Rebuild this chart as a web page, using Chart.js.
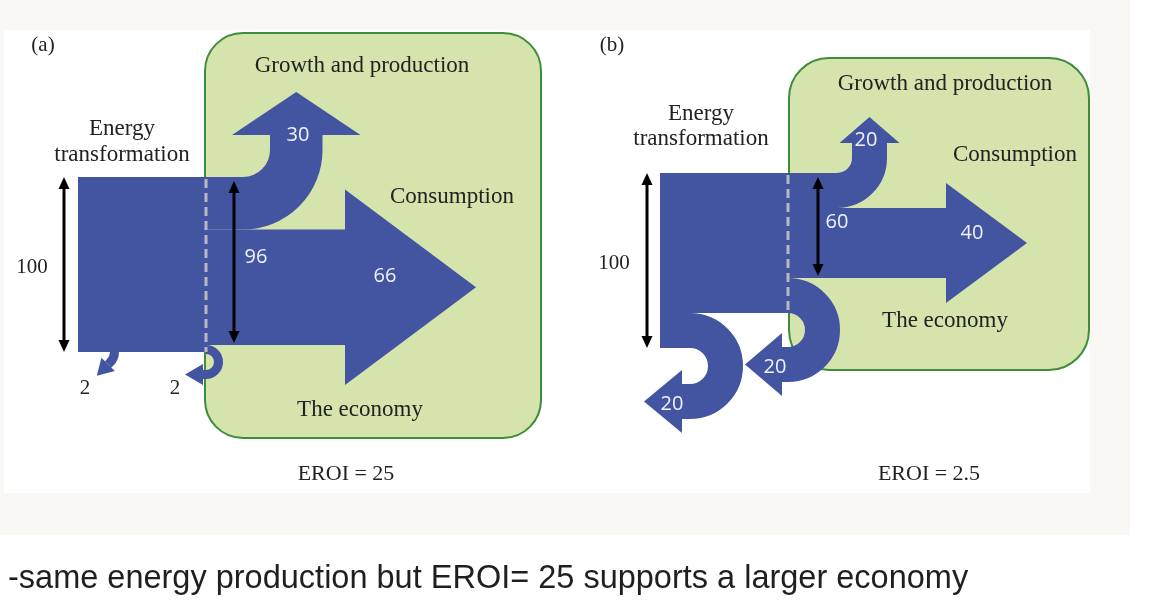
<!DOCTYPE html>
<html lang="en">
<head>
  <meta charset="UTF-8" />
  <title>EROI and the size of the economy</title>
  <script src="https://cdn.jsdelivr.net/npm/chart.js"></script>
  <style>
    * { box-sizing: border-box; margin: 0; padding: 0; }
    body { width: 1156px; height: 610px; overflow: hidden; background: #fff; position: relative; font-family: "Liberation Sans", Arial, sans-serif; }
    .frame { position: absolute; left: 0; top: 0; width: 1130px; height: 535px; background: #f9f8f4; }
    .paper { position: absolute; left: 4px; top: 30px; width: 1086px; height: 463px; background: #fff; }
    #chart { position: absolute; left: 0; top: 0; }
    .caption { position: absolute; left: 8px; top: 561px; font-size: 32.5px; line-height: 32.5px; color: #1f1f1f; white-space: nowrap; }
  </style>
</head>
<body>

<div class="frame"></div>
<div class="paper"></div>
<canvas id="chart" width="1156" height="610"></canvas>
<div class="caption">-same energy production but EROI= 25 supports a larger economy</div>

<script>
  // energy flows, 100 = energy produced
  const panels = ['(a)', '(b)'];
  const energyProduced = [100, 100];
  const toEconomy = [96, 60];
  const growthFlow = [30, 20];
  const consumptionFlow = [66, 40];
  const transformLoss = [2, 20];
  const deliveryLoss = [2, 20];
  const eroiText = ['EROI = 25', 'EROI = 2.5'];
  const boxLabels = ['Growth and production', 'Consumption', 'The economy'];
  const sourceLabel = ['Energy', 'transformation'];

  const BLUE = '#4354a1';
  const K = 1.75;      // px per energy unit
  const MIN_W = 9;     // tiny flows still need to be seen

  // where each panel sits
  const layout = [
    {
      tag: [43, 45], source: [122, 129, 155], box: [205, 33, 541, 438, 38],
      boxText: [[362, 66], [452, 197], [360, 410]], eroi: [346, 474],
      blockX: 78, dashX: 206, top: 177, inArrowX: 64, outArrowX: 234,
      inLabel: [32, 267], outLabel: [256, 257],
      growth: { cx: 243, ri: 27, tail: 15, extra: 38, len: 43, label: [298, 135] },
      cons: { baseX: 345, extra: 40, len: 131, label: [385, 276] },
      transform: { kind: 'down', x: 110, ri: 10, sweep: Math.PI / 4, tail: 3, extra: 5, len: 16, label: [85, 388], color: '#222' },
      delivery: { ri: 8, tail: 3, extra: 6, len: 18, label: [175, 388], color: '#222' }
    },
    {
      tag: [612, 45], source: [701, 114, 139], box: [789, 58, 1089, 370, 40],
      boxText: [[945, 84], [1015, 155], [945, 321]], eroi: [929, 474],
      blockX: 660, dashX: 788, top: 173, inArrowX: 647, outArrowX: 818,
      inLabel: [614, 263], outLabel: [837, 222],
      growth: { cx: 837, ri: 15, tail: 15, extra: 12.5, len: 26, label: [866, 140] },
      cons: { baseX: 946, extra: 25, len: 81, label: [972, 233] },
      transform: { kind: 'right', cx: 690, ri: 18, tail: 8, extra: 14, len: 38, label: [672, 404], color: '#fff' },
      delivery: { ri: 17, tail: 6, extra: 14, len: 37, label: [775, 367], color: '#fff' }
    }
  ];

  function head(ctx, x, y, ang, half, len) {
    const dx = Math.cos(ang), dy = Math.sin(ang);
    ctx.beginPath();
    ctx.moveTo(x - dy * half, y + dx * half);
    ctx.lineTo(x + dx * len, y + dy * len);
    ctx.lineTo(x + dy * half, y - dx * half);
    ctx.closePath();
    ctx.fill();
  }

  // thick band along an arc, finished with an arrow head
  function band(ctx, start, cx, cy, rm, a0, a1, ccw, w, tail, half, len) {
    const dir = ccw ? a1 - Math.PI / 2 : a1 + Math.PI / 2;
    const ex = cx + rm * Math.cos(a1), ey = cy + rm * Math.sin(a1);
    const tx = ex + tail * Math.cos(dir), ty = ey + tail * Math.sin(dir);
    ctx.beginPath();
    ctx.moveTo(start[0], start[1]);
    ctx.arc(cx, cy, rm, a0, a1, ccw);
    ctx.lineTo(tx, ty);
    ctx.lineWidth = w;
    ctx.lineCap = 'butt';
    ctx.stroke();
    head(ctx, tx, ty, dir, half, len);
  }

  function dblArrow(ctx, x, y1, y2) {
    ctx.strokeStyle = '#000';
    ctx.fillStyle = '#000';
    ctx.lineWidth = 3;
    ctx.beginPath();
    ctx.moveTo(x, y1 + 8);
    ctx.lineTo(x, y2 - 8);
    ctx.stroke();
    head(ctx, x, y1 + 12, -Math.PI / 2, 5.5, 12);
    head(ctx, x, y2 - 12, Math.PI / 2, 5.5, 12);
  }

  const flowPlugin = {
    id: 'flowPlugin',
    afterDraw(chart) {
      const ctx = chart.ctx;
      const xs = chart.scales.x, ys = chart.scales.y;
      const X = v => xs.getPixelForValue(v);
      const Y = v => ys.getPixelForValue(v);
      const T = v => Y(v * K) - Y(0);
      const TW = v => Math.max(T(v), MIN_W);
      const serif = '"Liberation Serif", "Times New Roman", serif';
      const sans = '"Open Sans", "Noto Sans", sans-serif';

      ctx.save();
      panels.forEach((tag, i) => {
        const L = layout[i];
        const top = Y(L.top);
        const bx = X(L.blockX), dx = X(L.dashX);

        // the economy box
        const [x1, y1, x2, y2, r] = L.box;
        ctx.beginPath();
        ctx.roundRect(X(x1), Y(y1), X(x2) - X(x1), Y(y2) - Y(y1), r);
        ctx.fillStyle = '#d5e3ad';
        ctx.fill();
        ctx.strokeStyle = '#3d8d3d';
        ctx.lineWidth = 2;
        ctx.stroke();

        ctx.fillStyle = BLUE;
        ctx.strokeStyle = BLUE;

        // energy transformation block
        const tr = L.transform;
        const blockH = tr.kind === 'right' ? T(energyProduced[i] - transformLoss[i]) : T(energyProduced[i]);
        ctx.fillRect(bx, top, dx - bx + 1, blockH);

        // growth and production
        const g = L.growth;
        const gw = T(growthFlow[i]);
        const gcy = top - g.ri, gcx = X(g.cx), grm = g.ri + gw / 2;
        band(ctx, [dx, top + gw / 2], gcx, gcy, grm, Math.PI / 2, 0, true, gw, g.tail, gw / 2 + g.extra, g.len);

        // consumption
        const c = L.cons;
        const cTop = top + gw, cH = T(consumptionFlow[i]);
        const cbx = X(c.baseX);
        ctx.fillRect(dx, cTop, cbx - dx + 1, cH);
        const cMid = cTop + cH / 2;
        ctx.beginPath();
        ctx.moveTo(cbx, cMid - cH / 2 - c.extra);
        ctx.lineTo(cbx + c.len, cMid);
        ctx.lineTo(cbx, cMid + cH / 2 + c.extra);
        ctx.closePath();
        ctx.fill();

        // delivery loss, curls back at the boundary
        const d = L.delivery;
        const dw = TW(deliveryLoss[i]);
        const dTop = top + T(toEconomy[i]);
        const dcy = dTop + dw + d.ri, drm = d.ri + dw / 2;
        band(ctx, [dx, dTop + dw / 2], dx, dcy, drm, -Math.PI / 2, Math.PI / 2, false, dw, d.tail, dw / 2 + d.extra, d.len);

        // transformation loss
        const tw = TW(transformLoss[i]);
        if (tr.kind === 'right') {
          const tTop = top + blockH;
          const tcx = X(tr.cx), tcy = tTop + tw + tr.ri, trm = tr.ri + tw / 2;
          band(ctx, [bx, tTop + tw / 2], tcx, tcy, trm, -Math.PI / 2, Math.PI / 2, false, tw, tr.tail, tw / 2 + tr.extra, tr.len);
        } else {
          const yb = top + blockH;
          const tcx = X(tr.x) - tr.ri, trm = tr.ri + tw / 2;
          band(ctx, [tcx + trm, yb - 2], tcx, yb, trm, 0, tr.sweep, false, tw, tr.tail, tw / 2 + tr.extra, tr.len);
        }

        // boundary of the economy
        ctx.setLineDash([9, 5]);
        ctx.strokeStyle = '#b9b9c2';
        ctx.lineWidth = 3;
        ctx.beginPath();
        ctx.moveTo(dx, top + 2);
        ctx.lineTo(dx, top + blockH);
        ctx.stroke();
        ctx.setLineDash([]);

        dblArrow(ctx, X(L.inArrowX), top, top + T(energyProduced[i]));
        dblArrow(ctx, X(L.outArrowX), top + 4, top + T(toEconomy[i]) - 2);

        // text
        ctx.textAlign = 'center';
        ctx.textBaseline = 'middle';
        ctx.fillStyle = '#222';
        ctx.font = '21px ' + serif;
        ctx.fillText(tag, X(L.tag[0]), Y(L.tag[1]));
        ctx.font = '23px ' + serif;
        ctx.fillText(sourceLabel[0], X(L.source[0]), Y(L.source[1]));
        ctx.fillText(sourceLabel[1], X(L.source[0]), Y(L.source[2]));
        boxLabels.forEach((s, j) => ctx.fillText(s, X(L.boxText[j][0]), Y(L.boxText[j][1])));
        ctx.font = '22px ' + serif;
        ctx.fillText(eroiText[i], X(L.eroi[0]), Y(L.eroi[1]));
        ctx.font = '21px ' + serif;
        ctx.fillText(String(energyProduced[i]), X(L.inLabel[0]), Y(L.inLabel[1]));

        ctx.font = '20px ' + sans;
        ctx.fillStyle = '#f2f2fa';
        ctx.fillText(String(toEconomy[i]), X(L.outLabel[0]), Y(L.outLabel[1]));
        ctx.fillText(String(growthFlow[i]), X(g.label[0]), Y(g.label[1]));
        ctx.fillText(String(consumptionFlow[i]), X(c.label[0]), Y(c.label[1]));

        ctx.font = (tr.color === '#fff' ? '20px ' + sans : '21px ' + serif);
        ctx.fillStyle = tr.color === '#fff' ? '#f2f2fa' : tr.color;
        ctx.fillText(String(transformLoss[i]), X(tr.label[0]), Y(tr.label[1]));
        ctx.fillStyle = d.color === '#fff' ? '#f2f2fa' : d.color;
        ctx.fillText(String(deliveryLoss[i]), X(d.label[0]), Y(d.label[1]));
      });
      ctx.restore();
    }
  };

  new Chart(document.getElementById('chart'), {
    type: 'scatter',
    data: { datasets: [] },
    options: {
      responsive: false,
      animation: false,
      layout: { padding: 0 },
      plugins: { legend: { display: false }, tooltip: { enabled: false } },
      scales: {
        x: { type: 'linear', min: 0, max: 1156, display: false },
        y: { type: 'linear', min: 0, max: 610, reverse: true, display: false }
      }
    },
    plugins: [flowPlugin]
  });
</script>

</body>
</html>
